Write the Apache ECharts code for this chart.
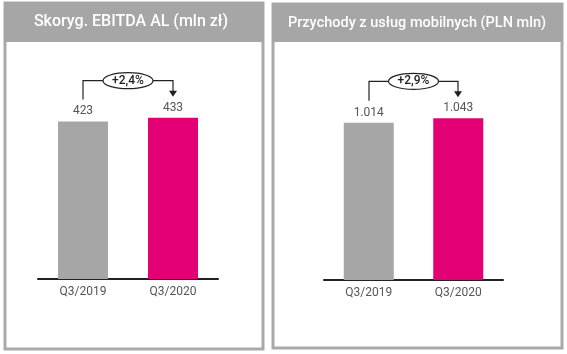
<!DOCTYPE html>
<html>
<head>
<meta charset="utf-8">
<script src="https://cdn.jsdelivr.net/npm/echarts@6/dist/echarts.min.js"></script>
<style>
html,body{margin:0;padding:0;background:#fff;}
#main{width:567px;height:354px;}
</style>
</head>
<body>
<div id="main"></div>
<script>
var categories = ['Q3/2019', 'Q3/2020'];
var ebitdaValues = [423, 433];
var ebitdaLabels = ['423', '433'];
var mobileValues = [1014, 1043];
var mobileLabels = ['1.014', '1.043'];
var titles = ['Skoryg. EBITDA AL (mln zł)', 'Przychody z usług mobilnych (PLN mln)'];
var changes = ['+2,4%', '+2,9%'];
var barColors = ['#a6a6a6', '#e20074'];

var chart = echarts.init(document.getElementById('main'));

function makeSeries(idx, values, labels) {
	return {
		type: 'bar',
		xAxisIndex: idx,
		yAxisIndex: idx,
		barWidth: 50,
		silent: true,
		data: values.map(function (v, i) {
			return { value: v, itemStyle: { color: barColors[i] } };
		}),
		label: {
			show: true,
			position: 'top',
			distance: 4,
			color: '#555',
			fontFamily: 'Roboto',
			fontSize: 12,
			formatter: function (p) { return labels[p.dataIndex]; }
		}
	};
}

function xAxisFor(idx) {
	return {
		gridIndex: idx,
		type: 'category',
		data: categories,
		axisTick: { show: false },
		axisLine: { lineStyle: { color: '#222', width: 2 } },
		axisLabel: { color: '#555', fontFamily: 'Roboto', fontSize: 12, margin: 7 }
	};
}

function yAxisFor(idx, max) {
	return {
		gridIndex: idx,
		type: 'value',
		min: 0,
		max: max,
		show: false,
		splitLine: { show: false }
	};
}

var option = {
	animation: false,
	grid: [
		{ left: 38, top: 0, width: 180, bottom: 75 },
		{ left: 324, top: 0, width: 179, bottom: 74 }
	],
	xAxis: [xAxisFor(0), xAxisFor(1)],
	yAxis: [yAxisFor(0, 749), yAxisFor(1, 1806)],
	series: [
		makeSeries(0, ebitdaValues, ebitdaLabels),
		makeSeries(1, mobileValues, mobileLabels)
	],
	graphic: [
		{ type: 'rect', z: -10, shape: { x: 5, y: 3, width: 258, height: 346 }, style: { fill: '#fff', stroke: '#a9a9a9', lineWidth: 3 } },
		{ type: 'rect', z: -9, shape: { x: 4, y: 2, width: 260, height: 40 }, style: { fill: '#a6a6a6' } },
		{ type: 'text', z: 5, x: 131, y: 22, style: { text: titles[0], fill: '#fff', font: '500 16px Roboto', align: 'center', verticalAlign: 'middle' } },
		{ type: 'rect', z: -10, shape: { x: 273, y: 4, width: 289, height: 344 }, style: { fill: '#fff', stroke: '#a9a9a9', lineWidth: 3 } },
		{ type: 'rect', z: -9, shape: { x: 272, y: 3, width: 291, height: 39 }, style: { fill: '#a6a6a6' } },
		{ type: 'text', z: 5, x: 417, y: 23, style: { text: titles[1], fill: '#fff', font: '500 14.5px Roboto', align: 'center', verticalAlign: 'middle' } }
	]
};
chart.setOption(option);

// annotation brackets, placed from the axis scales
function bracket(idx, values, text) {
	var finder = { xAxisIndex: idx, yAxisIndex: idx };
	var p0 = chart.convertToPixel(finder, [0, values[0]]);
	var p1 = chart.convertToPixel(finder, [1, values[1]]);
	var x0 = Math.round(p0[0]), x1 = Math.round(p1[0]);
	var yStart = p0[1] - 22;
	var yTop = Math.min(p0[1], p1[1]) - 37;
	var yEnd = p1[1] - 21;
	var cx = (x0 + x1) / 2;
	var rx = 25, ry = 8;
	return [
		{ type: 'polyline', shape: { points: [[x0, yStart], [x0, yTop], [cx - rx, yTop]] }, style: { stroke: '#222', lineWidth: 1.2, fill: null } },
		{ type: 'polyline', shape: { points: [[cx + rx, yTop], [x1, yTop], [x1, yEnd - 5]] }, style: { stroke: '#222', lineWidth: 1.2, fill: null } },
		{ type: 'polygon', shape: { points: [[x1 - 4, yEnd - 6], [x1 + 4, yEnd - 6], [x1, yEnd]] }, style: { fill: '#222' } },
		{ type: 'ellipse', shape: { cx: cx, cy: yTop, rx: rx, ry: ry }, style: { fill: '#fff', stroke: '#222', lineWidth: 1.2 } },
		{ type: 'text', x: cx, y: yTop, z: 10, style: { text: text, fill: '#222', font: '500 12px Roboto', align: 'center', verticalAlign: 'middle' } }
	];
}

var extra = bracket(0, ebitdaValues, changes[0]).concat(bracket(1, mobileValues, changes[1]));
chart.setOption({ graphic: option.graphic.concat(extra) });
</script>
</body>
</html>
